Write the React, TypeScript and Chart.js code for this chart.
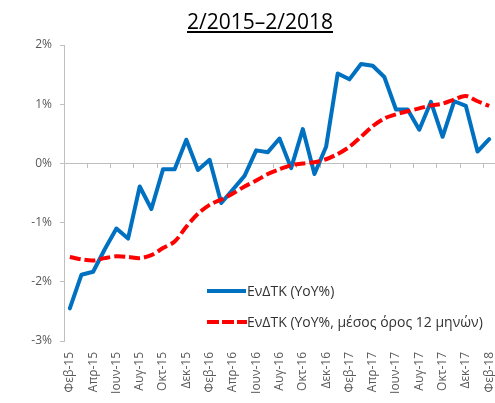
import React, { useEffect, useRef } from 'react';
import { Chart, registerables } from 'chart.js';

Chart.register(...registerables);

const titleText = '2/2015–2/2018';

const categories = [
  'Φεβ-15', 'Μαρ-15', 'Απρ-15', 'Μαϊ-15', 'Ιουν-15', 'Ιουλ-15', 'Αυγ-15', 'Σεπ-15', 'Οκτ-15', 'Νοε-15', 'Δεκ-15',
  'Ιαν-16', 'Φεβ-16', 'Μαρ-16', 'Απρ-16', 'Μαϊ-16', 'Ιουν-16', 'Ιουλ-16', 'Αυγ-16', 'Σεπ-16', 'Οκτ-16', 'Νοε-16', 'Δεκ-16',
  'Ιαν-17', 'Φεβ-17', 'Μαρ-17', 'Απρ-17', 'Μαϊ-17', 'Ιουν-17', 'Ιουλ-17', 'Αυγ-17', 'Σεπ-17', 'Οκτ-17', 'Νοε-17', 'Δεκ-17',
  'Ιαν-18', 'Φεβ-18',
];

const seriesNames = ['ΕνΔΤΚ (YoY%)', 'ΕνΔΤΚ (YoY%, μέσος όρος 12 μηνών)'];

const hicpYoY = [
  -2.45, -1.88, -1.83, -1.45, -1.10, -1.27, -0.39, -0.77, -0.10, -0.10,
  0.40, -0.11, 0.06, -0.67, -0.44, -0.21, 0.22, 0.19, 0.42, -0.08,
  0.58, -0.18, 0.28, 1.52, 1.42, 1.68, 1.65, 1.46, 0.91, 0.91,
  0.57, 1.04, 0.45, 1.05, 0.97, 0.20, 0.41,
];

const hicpAvg12 = [
  -1.58, -1.62, -1.64, -1.60, -1.57, -1.58, -1.60, -1.55, -1.43, -1.32,
  -1.07, -0.85, -0.70, -0.61, -0.51, -0.39, -0.29, -0.18, -0.10, -0.03,
  0.00, 0.02, 0.07, 0.16, 0.28, 0.45, 0.63, 0.76, 0.83, 0.88,
  0.93, 0.98, 1.01, 1.08, 1.14, 1.05, 0.97,
];

const yMin = -3;
const yMax = 2;
const yStep = 1;

const BLUE = '#0070C0';
const RED = '#FF0000';
const AXIS = '#BFBFBF';
const TICK_TEXT = '#595959';
const FONT = "'Open Sans', 'Noto Sans', sans-serif";

export default function App() {
  const ref = useRef<HTMLCanvasElement | null>(null);

  useEffect(() => {
    if (!ref.current) return;
    const chart = new Chart(ref.current, {
      type: 'line',
      data: {
        labels: categories,
        datasets: [
          {
            label: seriesNames[0],
            data: hicpYoY,
            borderColor: BLUE,
            backgroundColor: BLUE,
            borderWidth: 4,
            pointRadius: 0,
            tension: 0,
            borderJoinStyle: 'round',
            borderCapStyle: 'round',
            order: 1,
          },
          {
            label: seriesNames[1],
            data: hicpAvg12,
            borderColor: RED,
            backgroundColor: RED,
            borderWidth: 4,
            borderDash: [11, 4],
            pointRadius: 0,
            tension: 0.3,
            order: 0,
          },
        ],
      },
      options: {
        responsive: false,
        animation: false,
        devicePixelRatio: 1,
        layout: { padding: { top: 45, left: 0, right: 0, bottom: 0 } },
        plugins: {
          legend: { display: false },
          title: { display: false },
          tooltip: { enabled: false },
        },
        font: { family: FONT },
        scales: {
          x: {
            type: 'category',
            position: 'bottom',
            offset: true,
            grid: { display: false, drawTicks: true, tickLength: 8 },
            border: { display: false },
            ticks: {
              autoSkip: false,
              minRotation: 90,
              maxRotation: 90,
              padding: 3,
              labelOffset: 0,
              color: TICK_TEXT,
              font: { family: FONT, size: 12 },
              callback: function (this: any, value: any, index: number) {
                return index % 2 === 0 ? categories[index] : '';
              },
            },
            afterFit: (s: any) => {
              s.height = 62;
              s.paddingLeft = 0;
              s.paddingRight = 0;
            },
          },
          x2: {
            type: 'category',
            axis: 'x',
            position: { y: 0 },
            offset: true,
            grid: {
              display: true,
              offset: true,
              drawOnChartArea: false,
              drawTicks: true,
              tickLength: 4,
              tickWidth: 1,
              tickColor: (ctx: any) => (ctx.index % 2 === 0 ? AXIS : 'rgba(0,0,0,0)'),
              color: AXIS,
            },
            border: { display: true, color: AXIS, width: 1 },
            ticks: { display: false, autoSkip: false },
            afterFit: (s: any) => {
              s.height = 0;
              s.paddingLeft = 0;
              s.paddingRight = 0;
            },
          },
          y: {
            type: 'linear',
            position: 'left',
            min: yMin,
            max: yMax,
            grid: {
              display: true,
              drawOnChartArea: false,
              drawTicks: true,
              tickLength: 4,
              color: AXIS,
            },
            border: { display: true, color: AXIS, width: 1 },
            ticks: {
              stepSize: yStep,
              padding: 8,
              color: TICK_TEXT,
              font: { family: FONT, size: 12 },
              callback: (v: any) => `${v}%`,
            },
            afterFit: (s: any) => {
              s.width = 64;
            },
          },
        },
      } as any,
    });
    return () => chart.destroy();
  }, []);

  const legendText: React.CSSProperties = {
    position: 'absolute',
    left: 247,
    fontFamily: FONT,
    fontSize: 14,
    lineHeight: '14px',
    color: '#333',
    whiteSpace: 'nowrap',
  };

  return (
    <div
      style={{
        position: 'fixed',
        left: 0,
        top: 0,
        width: 495,
        height: 403,
        background: '#fff',
        overflow: 'hidden',
      }}
    >
      <canvas ref={ref} width={495} height={403} style={{ position: 'absolute', left: 0, top: 0 }} />
      <div
        style={{
          position: 'absolute',
          left: 160,
          top: 11,
          width: 200,
          textAlign: 'center',
          fontFamily: FONT,
          fontSize: 21,
          lineHeight: '21px',
          color: '#000',
          textDecoration: 'underline',
          textUnderlineOffset: 2,
          whiteSpace: 'nowrap',
        }}
      >
        {titleText}
      </div>
      <div style={{ position: 'absolute', left: 207, top: 289, width: 39, height: 4, background: BLUE }} />
      <div style={{ ...legendText, top: 284 }}>{seriesNames[0]}</div>
      <svg style={{ position: 'absolute', left: 207, top: 319 }} width={40} height={6}>
        <line x1={0} y1={3} x2={40} y2={3} stroke={RED} strokeWidth={4} strokeDasharray="12 3" />
      </svg>
      <div style={{ ...legendText, top: 315 }}>{seriesNames[1]}</div>
    </div>
  );
}
